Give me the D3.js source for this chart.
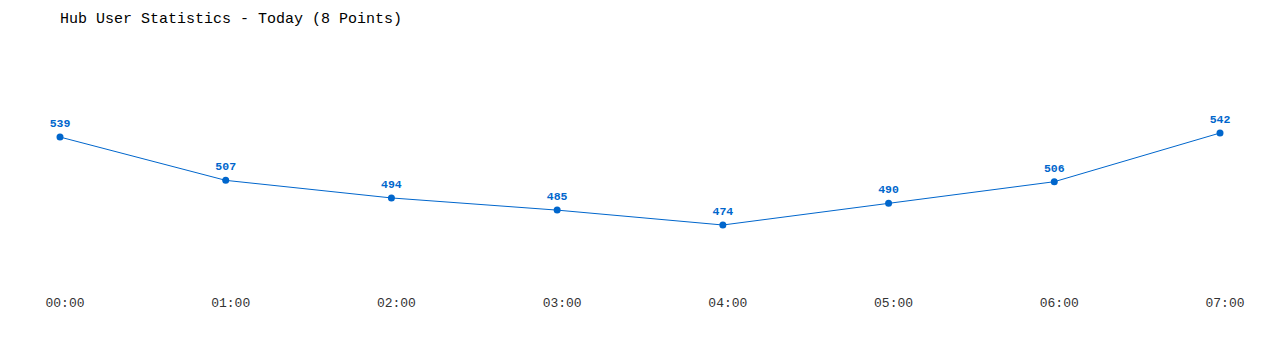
<!DOCTYPE html>
<html lang="en">
<head>
    <meta charset="UTF-8">
    <title>Hub User Statistics</title>
    <script src="https://d3js.org/d3.v7.min.js"></script>
    <style>
        body {
            margin: 0;
            padding: 0;
            background: #fff;
        }
        svg {
            display: block;
            font-family: "Liberation Mono", "DejaVu Sans Mono", monospace;
        }
        .title {
            font-size: 15px;
            fill: #000;
        }
        .tick-label {
            font-size: 13px;
            fill: #333;
        }
        .value-label {
            font-size: 11.5px;
            font-weight: bold;
            fill: #0066cc;
        }
        .line {
            fill: none;
            stroke: #0066cc;
            stroke-width: 1px;
        }
    </style>
</head>
<body>
    <svg width="1280" height="350"></svg>

    <script>
        const hours = ["00:00", "01:00", "02:00", "03:00", "04:00", "05:00", "06:00", "07:00"];
        const users = [539, 507, 494, 485, 474, 490, 506, 542];

        const svg = d3.select("svg");

        svg.append("text")
            .attr("class", "title")
            .attr("x", 60)
            .attr("y", 23)
            .text("Hub User Statistics - Today (8 Points)");

        const x = d3.scalePoint()
            .domain(hours)
            .range([60, 1220]);

        const y = d3.scaleLinear()
            .domain([474, 542])
            .range([225, 133]);

        const data = hours.map((h, i) => ({ hour: h, value: users[i] }));

        svg.append("path")
            .datum(data)
            .attr("class", "line")
            .attr("d", d3.line()
                .x(d => x(d.hour))
                .y(d => y(d.value)));

        svg.selectAll(".dot")
            .data(data)
            .enter()
            .append("circle")
            .attr("class", "dot")
            .attr("cx", d => x(d.hour))
            .attr("cy", d => y(d.value))
            .attr("r", 3.5)
            .attr("fill", "#0066cc");

        svg.selectAll(".value-label")
            .data(data)
            .enter()
            .append("text")
            .attr("class", "value-label")
            .attr("x", d => x(d.hour))
            .attr("y", d => y(d.value) - 10)
            .attr("text-anchor", "middle")
            .text(d => d.value);

        svg.selectAll(".tick-label")
            .data(hours)
            .enter()
            .append("text")
            .attr("class", "tick-label")
            .attr("x", d => x(d) + 5)
            .attr("y", 307)
            .attr("text-anchor", "middle")
            .text(d => d);
    </script>
</body>
</html>
